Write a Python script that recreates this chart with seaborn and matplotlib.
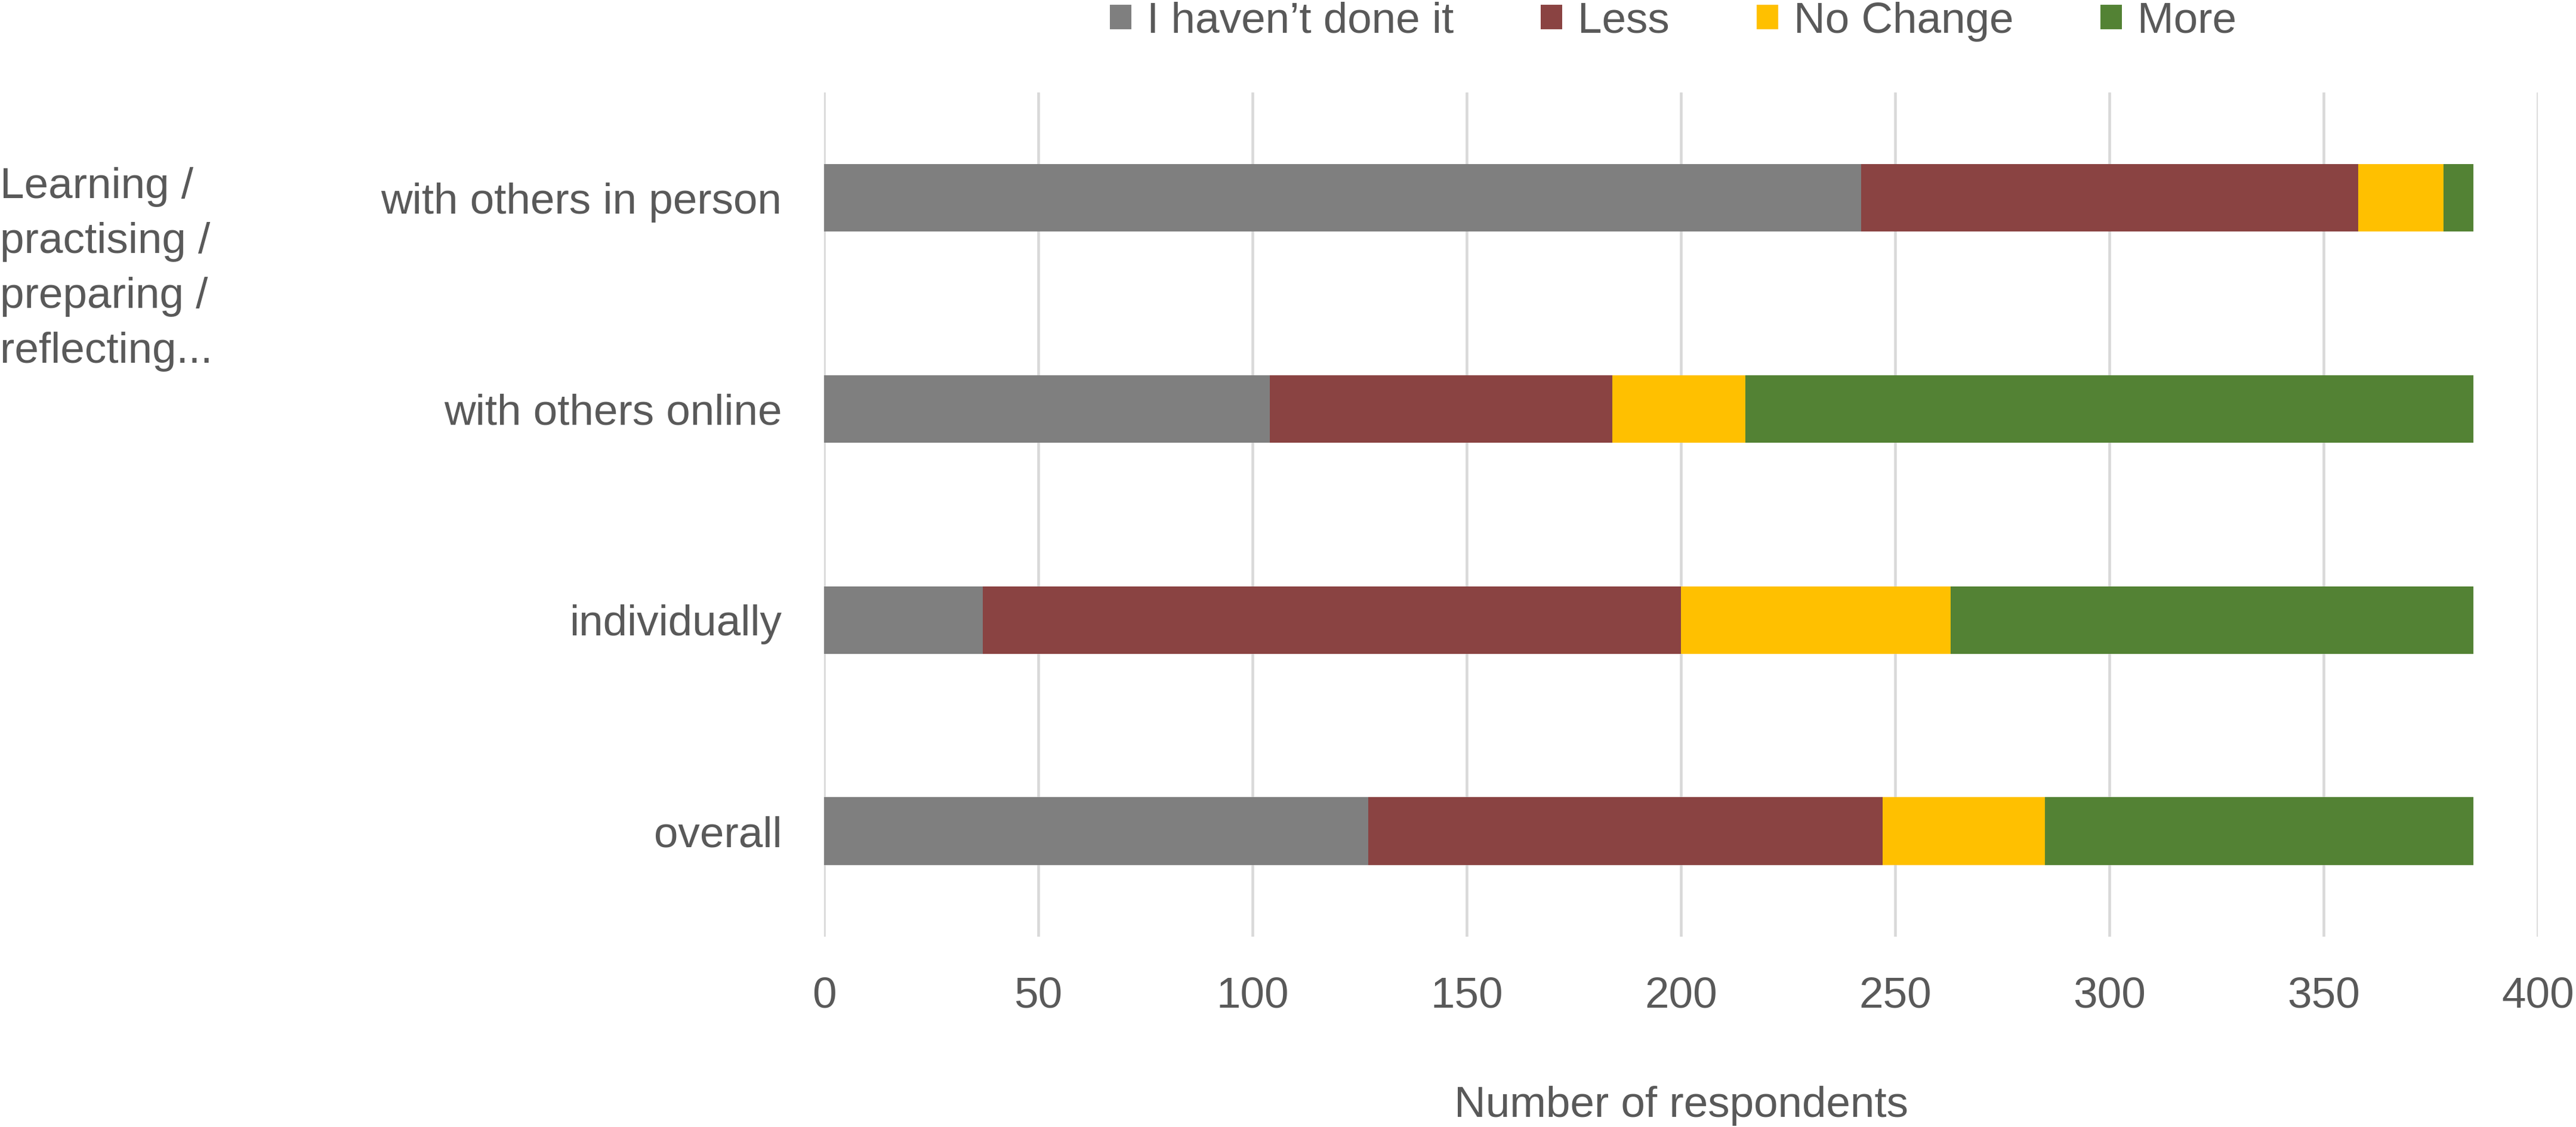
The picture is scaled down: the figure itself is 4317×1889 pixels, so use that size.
import matplotlib
matplotlib.use("Agg")
import matplotlib.pyplot as plt
from matplotlib.patches import Patch
import seaborn as sns
import pandas as pd
import numpy as np

categories = ["with others in person", "with others online", "individually", "overall"]
series_names = ["I haven\u2019t done it", "Less", "No Change", "More"]
not_done = [242, 104, 37, 127]
less = [116, 80, 163, 120]
no_change = [20, 31, 63, 38]
more = [7, 170, 122, 100]
colors = ["#7F7F7F", "#8A4342", "#FFC000", "#538234"]
x_ticks = [0, 50, 100, 150, 200, 250, 300, 350, 400]

sns.set_theme(style="white")
plt.rcParams['font.family'] = ['Liberation Sans', 'DejaVu Sans']
text_color = "#595959"

fig = plt.figure(figsize=(4317 / 300, 1889 / 300), dpi=300)
ax = fig.add_axes([0.3199, 0.1689, 0.9852 - 0.3199, 0.918 - 0.1689])

series = [not_done, less, no_change, more]
cum = np.cumsum(np.array(series), axis=0)
# draw from the longest cumulative total to the shortest so segments show stacked
for i in range(len(series) - 1, -1, -1):
    df = pd.DataFrame({"category": categories, "value": cum[i]})
    sns.barplot(data=df, x="value", y="category", order=categories,
                color=colors[i], width=0.32, saturation=1, ax=ax,
                edgecolor="none", linewidth=0, zorder=3)

ax.set_xlim(0, 400)
ax.set_xticks(x_ticks)
ax.set_xticklabels([str(t) for t in x_ticks])
ax.xaxis.grid(True, color="#D9D9D9", linewidth=1.1, zorder=0)
ax.yaxis.grid(False)
ax.set_axisbelow(True)
for s in ax.spines.values():
    s.set_visible(False)
ax.tick_params(axis="both", length=0, labelsize=17.5, colors=text_color)
ax.tick_params(axis="y", pad=17)
ax.tick_params(axis="x", pad=16)
ax.set_ylabel("")
ax.set_xlabel("Number of respondents", fontsize=17.5, color=text_color, labelpad=28)

fig.text(0.0, 1 - 280 / 1889, "Learning /\npractising /\npreparing /\nreflecting...",
         ha="left", va="top", fontsize=17.5, color=text_color, linespacing=1.48)

handles = [Patch(facecolor=c, edgecolor="none") for c in colors]
fig.legend(handles, series_names, loc="center", bbox_to_anchor=(0.6495, 1 - 36 / 1889),
           ncol=4, frameon=False, fontsize=17.5, labelcolor=text_color,
           handlelength=0.5, handleheight=0.5, handletextpad=0.35, columnspacing=2.0,
           borderaxespad=0)

fig.savefig("out.png", dpi=300)
